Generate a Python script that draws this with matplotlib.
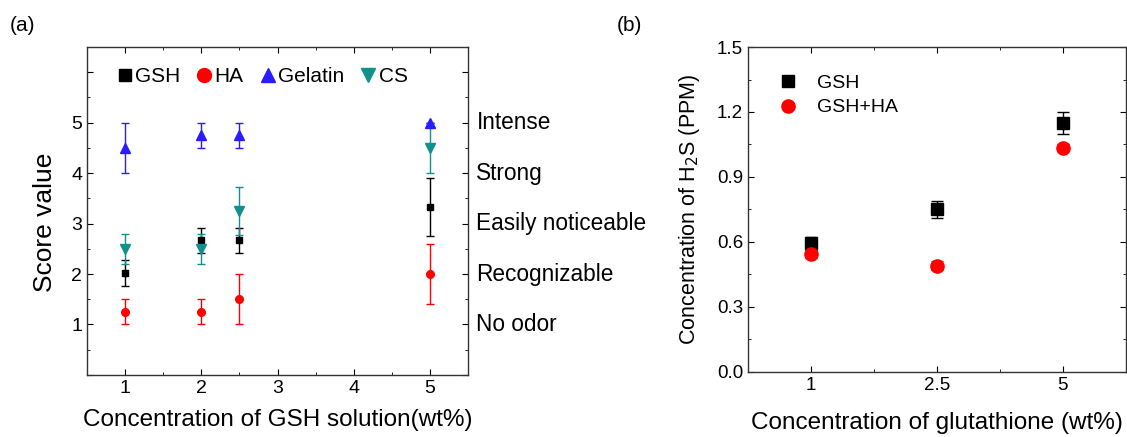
import matplotlib
matplotlib.use("Agg")
import matplotlib.pyplot as plt
from matplotlib.lines import Line2D
from matplotlib.ticker import FixedLocator, MultipleLocator, FuncFormatter
from matplotlib.transforms import blended_transform_factory

plt.rcParams["font.family"] = ["Liberation Sans", "DejaVu Sans"]

# panel (a): odor score vs GSH concentration
conc_a = [1, 2, 2.5, 5]
gsh_score = [2.02, 2.67, 2.67, 3.33]
gsh_err = [0.25, 0.25, 0.25, 0.57]
ha_score = [1.25, 1.25, 1.5, 2.0]
ha_err = [0.25, 0.25, 0.5, 0.6]
gelatin_score = [4.5, 4.75, 4.75, 5.0]
gelatin_err = [0.5, 0.25, 0.25, 0.0]
cs_score = [2.5, 2.5, 3.25, 4.5]
cs_err = [0.3, 0.3, 0.47, 0.5]
odor_levels = [1, 2, 3, 4, 5]
odor_names = ["No odor", "Recognizable", "Easily noticeable", "Strong", "Intense"]

# panel (b): H2S concentration
conc_b = ["1", "2.5", "5"]
h2s_gsh = [0.595, 0.75, 1.15]
h2s_gsh_err = [0.03, 0.04, 0.05]
h2s_gsh_ha = [0.545, 0.49, 1.035]
h2s_gsh_ha_err = [0.02, 0.02, 0.015]

BLUE = "#2a1cff"
TEAL = "#12918c"

fig = plt.figure(figsize=(11.27, 4.37), dpi=100)
ax1 = fig.add_axes([0.0772, 0.142, 0.3381, 0.7504])
ax2 = fig.add_axes([0.6637, 0.149, 0.3353, 0.7434])

series = [
    (gsh_score, gsh_err, "s", "black", "GSH", 4.5, 8),
    (ha_score, ha_err, "o", "red", "HA", 5.5, 10),
    (gelatin_score, gelatin_err, "^", BLUE, "Gelatin", 7, 10),
    (cs_score, cs_err, "v", TEAL, "CS", 7, 10),
]
handles = []
for y, e, m, c, lab, ms, ms_leg in series:
    ax1.errorbar(conc_a, y, yerr=e, fmt=m, color=c, ecolor=c, ms=ms,
                 elinewidth=1.0, capsize=3, capthick=1.0)
    handles.append(Line2D([], [], ls="none", marker=m, color=c, ms=ms_leg, label=lab))

ax1.set_xlim(0.5, 5.5)
ax1.set_ylim(0, 6.5)
ax1.xaxis.set_major_locator(FixedLocator([1, 2, 3, 4, 5]))
ax1.xaxis.set_minor_locator(MultipleLocator(0.5))
ax1.yaxis.set_major_locator(FixedLocator([0, 1, 2, 3, 4, 5, 6]))
ax1.yaxis.set_major_formatter(FuncFormatter(lambda v, p: "%d" % v if 1 <= v <= 5 else ""))
ax1.yaxis.set_minor_locator(MultipleLocator(0.5))
ax1.tick_params(which="both", direction="in", top=True, right=True, labelsize=14)
ax1.tick_params(which="major", length=4)
ax1.tick_params(which="minor", length=2.5)
ax1.set_xlabel("Concentration of GSH solution(wt%)", fontsize=17.5, labelpad=9)
ax1.set_ylabel("Score value", fontsize=19)
ax1.yaxis.set_label_coords(-0.08, 0.466)

trans = blended_transform_factory(ax1.transAxes, ax1.transData)
for lvl, name in zip(odor_levels, odor_names):
    ax1.text(1.022, lvl, name, transform=trans, fontsize=16.3, va="center", ha="left")

ax1.legend(handles=handles, loc="center left", ncol=4, frameon=False, fontsize=15,
           handletextpad=0.1, columnspacing=0.75, handlelength=0.8,
           bbox_to_anchor=(0.055, 0.91), borderaxespad=0)

# panel (b)
xb = range(len(conc_b))
ax2.errorbar(xb, h2s_gsh, yerr=h2s_gsh_err, fmt="s", color="black", ms=8.5,
             elinewidth=1.0, capsize=4, capthick=1.0)
ax2.errorbar(xb, h2s_gsh_ha, yerr=h2s_gsh_ha_err, fmt="o", color="red", ms=9.5,
             elinewidth=1.0, capsize=4, capthick=1.0)
ax2.set_xlim(-0.5, 2.5)
ax2.set_ylim(0, 1.5)
ax2.set_xticks(list(xb))
ax2.set_xticklabels(conc_b)
ax2.xaxis.set_minor_locator(FixedLocator([0.5, 1.5]))
ax2.yaxis.set_major_locator(MultipleLocator(0.3))
ax2.yaxis.set_minor_locator(MultipleLocator(0.15))
ax2.yaxis.set_major_formatter(FuncFormatter(lambda v, p: "%.1f" % v))
ax2.tick_params(which="both", direction="in", top=True, right=True, labelsize=13.5)
ax2.tick_params(which="major", length=4)
ax2.tick_params(which="minor", length=2.5)
ax2.set_xlabel("Concentration of glutathione (wt%)", fontsize=17.5, labelpad=13)
ax2.set_ylabel("Concentration of H$_2$S (PPM)", fontsize=15.5, labelpad=11)
leg_b = [
    Line2D([], [], ls="none", marker="s", color="black", ms=8.5, label="GSH"),
    Line2D([], [], ls="none", marker="o", color="red", ms=9.5, label="GSH+HA"),
]
ax2.legend(handles=leg_b, loc="upper left", frameon=False, fontsize=14,
           handletextpad=1.0, handlelength=1.0, labelspacing=0.35,
           bbox_to_anchor=(0.06, 0.94), borderaxespad=0)

for ax in (ax1, ax2):
    for s in ax.spines.values():
        s.set_linewidth(1.0)
        s.set_color("#333333")

fig.text(0.009, 0.93, "(a)", fontsize=15)
fig.text(0.547, 0.93, "(b)", fontsize=15)

fig.savefig("out.png", dpi=100)
